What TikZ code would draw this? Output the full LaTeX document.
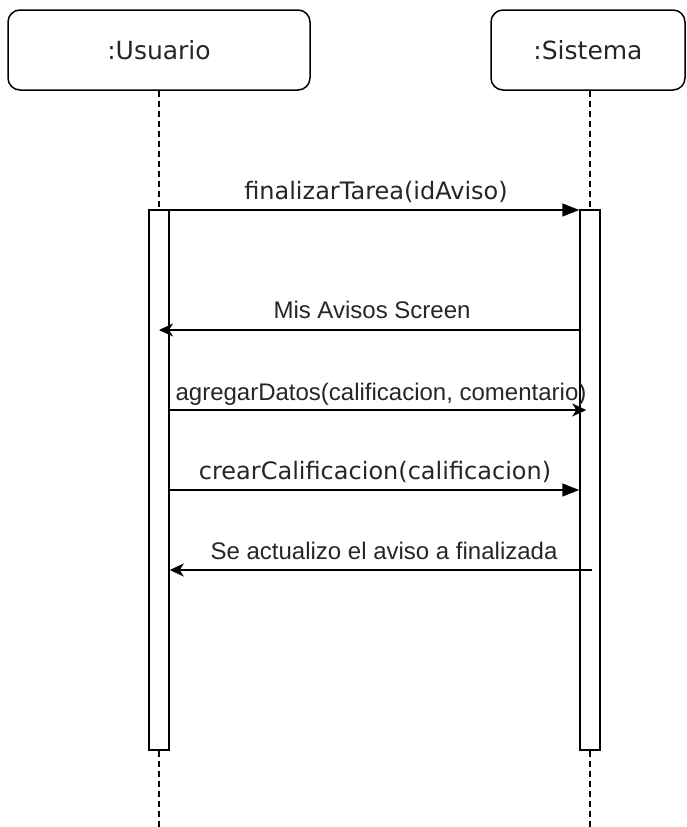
\documentclass[tikz,border=0pt]{standalone}
\usepackage{fontspec}
\setmainfont{Liberation Sans}
\newfontfamily\dejavu{DejaVu Sans}
\usetikzlibrary{arrows.meta}

\begin{document}
\begin{tikzpicture}[x=1pt, y=-1pt, line width=1.5pt,
  actor/.style={draw, rounded corners=12pt, minimum height=80pt, inner sep=0pt,
    font=\dejavu\fontsize{25}{30}\selectfont, text=black!85},
  bar/.style={draw, fill=white, minimum width=20pt, minimum height=540pt, inner sep=0pt},
  life/.style={dash pattern=on 6pt off 4pt, line width=1.5pt},
  call/.style={-{Triangle[length=17pt, width=13pt]}},
  reply/.style={-{Stealth[length=14pt, width=13pt, inset=4pt]}},
  lbl/.style={inner sep=0pt, text=black!85, font=\fontsize{24}{28}\selectfont},
  lbldv/.style={lbl, font=\dejavu\fontsize{24}{28}\selectfont}]
\useasboundingbox (0,0) rectangle (686,827);

\node[actor, minimum width=302pt] (usuario) at (159,50) {:Usuario};
\node[actor, minimum width=194pt] (sistema) at (588,50) {:Sistema};

\node[bar] (ubar) at (159,480) {};
\node[bar] (sbar) at (590,480) {};

\coordinate (uend) at (159,827);
\coordinate (send) at (590,827);
\draw[life] (usuario.south -| ubar) -- (ubar.north);
\draw[life] (ubar.south) -- (uend);
\draw[life] (sistema.south -| sbar) -- (sbar.north);
\draw[life] (sbar.south) -- (send);

\coordinate (m1) at (0,210);
\coordinate (m2) at (0,330);
\coordinate (m3) at (0,410);
\coordinate (m4) at (0,490);
\coordinate (m5) at (0,570);

\draw[call] (ubar.east |- m1) -- (sbar.west |- m1);
\node[lbldv, anchor=base] (finalizar) at (376,199) {finalizarTarea(idAviso)};

\draw[reply] (sbar.west |- m2) -- (ubar.center |- m2);
\node[lbl, anchor=base] (pantalla) at (372,318) {Mis Avisos Screen};

\draw[reply] (ubar.east |- m3) -- ([xshift=7pt]sbar.west |- m3);
\node[lbl, anchor=base] (agregar) at (381,400) {agregarDatos(calificacion, comentario)};

\draw[call] (ubar.east |- m4) -- (sbar.west |- m4);
\node[lbldv, anchor=base] (crear) at (375,479) {crearCalificacion(calificacion)};

\draw[reply] ([xshift=2pt]sbar.center |- m5) -- (ubar.east |- m5);
\node[lbl, anchor=base] (actualizo) at (384,559) {Se actualizo el aviso a finalizada};
\end{tikzpicture}
\end{document}
